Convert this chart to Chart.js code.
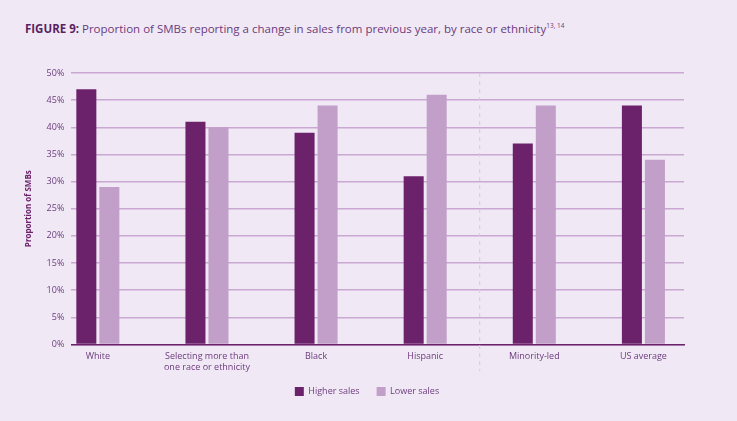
<!DOCTYPE html>
<html>
<head>
<meta charset="utf-8">
<script src="https://cdn.jsdelivr.net/npm/chart.js@4.4.1/dist/chart.umd.min.js"></script>
<style>
    html, body { margin: 0; padding: 0; background: #f0e9f5; }
    #wrap { position: relative; width: 737px; height: 421px; }
    #title {
        position: absolute; left: 25px; top: 21px;
        font-family: "Open Sans", sans-serif; font-size: 11.5px; color: #6b3a7c;
        white-space: nowrap;
    }
    #title b { color: #5a1f63; }
    #title sup { font-size: 6.5px; vertical-align: 5px; }
    canvas { position: absolute; left: 0; top: 0; }
</style>
</head>
<body>
<div id="wrap">
    <div id="title"><b>FIGURE 9:</b> Proportion of SMBs reporting a change in sales from previous year, by race or ethnicity<sup>13, 14</sup></div>
    <canvas id="chart_9" width="737" height="421"></canvas>
</div>
<script>
var categories = [
    'White',
    ['Selecting more than', 'one race or ethnicity'],
    'Black',
    'Hispanic',
    'Minority-led',
    'US average'
];
var higherSales = [47, 41, 39, 31, 37, 44];
var lowerSales = [29, 40, 44, 46, 44, 34];
var yTicks = [0, 5, 10, 15, 20, 25, 30, 35, 40, 45, 50];

function toPoints(values) {
    let tem = [];
    for (var i = 0; i < values.length; i++) {
        tem.push({x: i, y: values[i]});
    }
    return tem;
}

// dashed divider between Hispanic and Minority-led
var dividerPlugin = {
    id: 'divider',
    afterDraw: function (chart) {
        var ctx = chart.ctx;
        var x = chart.scales.x.getPixelForValue(3.5);
        ctx.save();
        ctx.strokeStyle = '#d6cadf';
        ctx.lineWidth = 1;
        ctx.setLineDash([4, 4]);
        ctx.beginPath();
        ctx.moveTo(x, chart.chartArea.top);
        ctx.lineTo(x, chart.chartArea.bottom + 27);
        ctx.stroke();
        ctx.restore();
    }
};

// wide gap between legend items, but keep the legend box short
var legendTweak = {
    id: 'legendTweak',
    beforeInit: function (chart) {
        var origFit = chart.legend.fit;
        chart.legend.fit = function () {
            origFit.call(this);
            this.height -= 7;
        };
    },
    afterLayout: function (chart) {
        chart.legend.top -= 10;
        chart.legend.bottom -= 10;
        chart.legend.left += 13;
        chart.legend.right += 13;
    }
};

var font9 = {family: 'Open Sans', size: 9};

var ctx9 = document.getElementById('chart_9').getContext('2d');
new Chart(ctx9, {
    type: 'bar',
    data: {
        datasets: [
            {
                label: 'Higher sales',
                data: toPoints(higherSales),
                backgroundColor: '#6c226b',
                categoryPercentage: 0.422,
                barPercentage: 0.87
            },
            {
                label: 'Lower sales',
                data: toPoints(lowerSales),
                backgroundColor: '#c29fc9',
                categoryPercentage: 0.422,
                barPercentage: 0.87
            }
        ]
    },
    options: {
        responsive: false,
        animation: false,
        layout: {
            padding: {left: 24, right: 53, top: 73, bottom: 12}
        },
        plugins: {
            legend: {
                position: 'bottom',
                labels: {
                    boxWidth: 9,
                    boxHeight: 9,
                    padding: 17,
                    color: '#6b3a7c',
                    font: font9
                }
            },
            tooltip: {enabled: false}
        },
        scales: {
            x: {
                type: 'linear',
                offset: false,
                min: -0.243,
                max: 5.372,
                afterBuildTicks: function (scale) {
                    scale.ticks = categories.map(function (c, i) { return {value: i}; });
                },
                grid: {display: false, drawTicks: false},
                border: {color: '#6c226b', width: 1.5},
                ticks: {
                    color: '#6b3a7c',
                    padding: 7,
                    maxRotation: 0,
                    autoSkip: false,
                    font: font9,
                    callback: function (v) { return categories[v]; }
                }
            },
            y: {
                min: 0,
                max: 50,
                afterBuildTicks: function (scale) {
                    scale.ticks = yTicks.map(function (v) { return {value: v}; });
                },
                grid: {color: '#caa8d3', lineWidth: 1.5, drawTicks: false},
                border: {display: false},
                ticks: {
                    color: '#6b3a7c',
                    padding: 7,
                    font: font9,
                    callback: function (v) { return v + '%'; }
                },
                title: {
                    display: true,
                    text: 'Proportion of SMBs',
                    color: '#6c226b',
                    padding: {top: 0, bottom: 6},
                    font: {family: 'Open Sans', size: 8, weight: 'bold'}
                }
            }
        }
    },
    plugins: [dividerPlugin, legendTweak]
});
</script>
</body>
</html>
